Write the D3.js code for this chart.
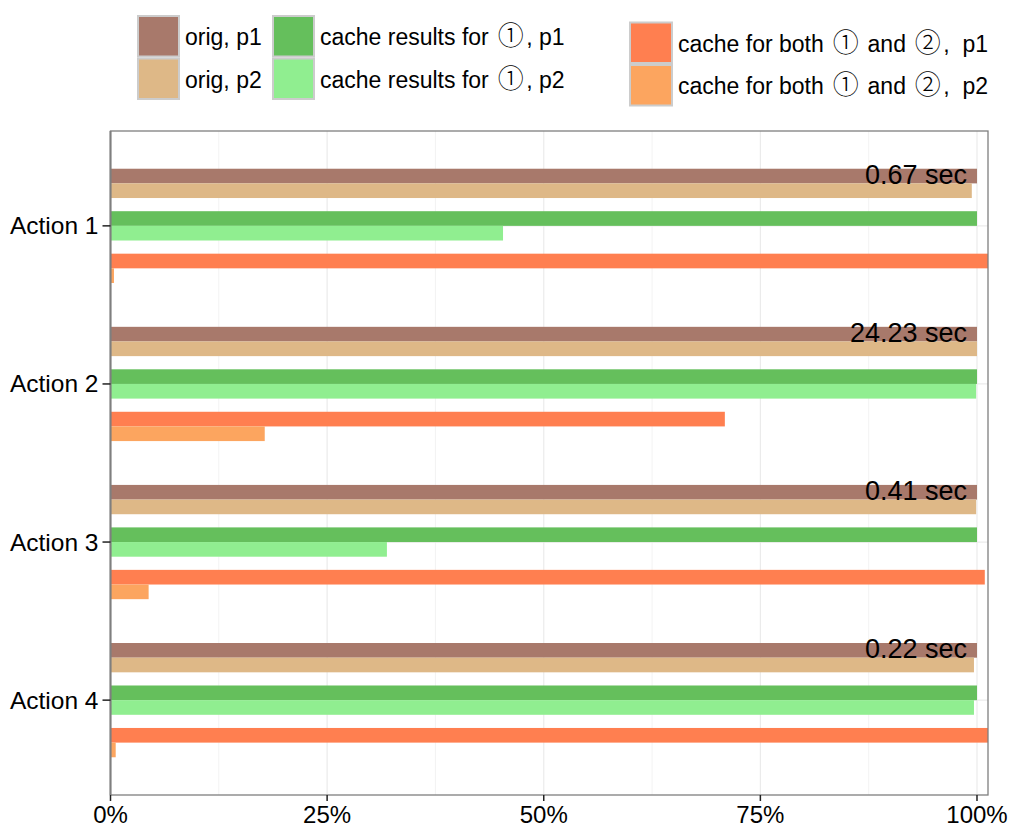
<!DOCTYPE html>
<html>
<head>
<meta charset="utf-8">
<script src="https://cdn.jsdelivr.net/npm/d3@7"></script>
<style>
  html, body { margin: 0; padding: 0; background: #fff; }
  svg text { font-family: "Liberation Sans", Arial, "Noto Sans CJK JP", sans-serif; fill: #000; }
  .circ { font-family: "Noto Sans CJK JP", "DejaVu Sans", sans-serif; }
</style>
</head>
<body>
<svg id="chart" width="1009" height="827"></svg>
<script>
// Actions on the y axis
const actions = ["Action 1", "Action 2", "Action 3", "Action 4"];

// Series (relative runtime, fraction of the original p1 run)
const seriesNames = [
  "orig, p1", "orig, p2",
  "cache results for \u2460, p1", "cache results for \u2460, p2",
  "cache for both \u2460 and \u2461,  p1", "cache for both \u2460 and \u2461,  p2"
];
const seriesColors = ["#a8796b", "#deb887", "#65bf5c", "#90ee90", "#ff7f50", "#fca55f"];

const origP1       = [1.000, 1.000, 1.000, 1.000];
const origP2       = [0.994, 1.000, 0.999, 0.9965];
const cacheOneP1   = [1.000, 1.000, 1.000, 1.000];
const cacheOneP2   = [0.453, 0.999, 0.319, 0.9965];
const cacheBothP1  = [1.013, 0.709, 1.009, 1.013];
const cacheBothP2  = [0.004, 0.178, 0.044, 0.006];

// Absolute runtime of the original p1 run
const secLabels = ["0.67 sec", "24.23 sec", "0.41 sec", "0.22 sec"];

const xTicks = [0, 0.25, 0.5, 0.75, 1];
const xTickLabels = ["0%", "25%", "50%", "75%", "100%"];
const xMinor = [0.125, 0.375, 0.625, 0.875];

const seriesValues = [origP1, origP2, cacheOneP1, cacheOneP2, cacheBothP1, cacheBothP2];

const rows = [];
actions.forEach((a, i) => {
  seriesValues.forEach((vals, s) => {
    rows.push({ action: a, series: s, pair: Math.floor(s / 2), sub: s % 2, value: vals[i] });
  });
});

const svg = d3.select("#chart");
const panel = { left: 110.5, right: 988, top: 131, bottom: 795 };

const x = d3.scaleLinear().domain([0, 1.0127]).range([panel.left, panel.right]);
const y = d3.scalePoint().domain(actions).range([panel.top, panel.bottom]).padding(0.6);

const groupHalf = y.step() * 0.403;
const pairScale = d3.scaleBand().domain([0, 1, 2]).range([-groupHalf, groupHalf])
  .paddingInner(0.31).paddingOuter(0.155);
const subScale = d3.scaleBand().domain([0, 1]).range([0, pairScale.bandwidth()]);

// clip for the panel
svg.append("defs").append("clipPath").attr("id", "panelClip")
  .append("rect")
  .attr("x", panel.left).attr("y", panel.top)
  .attr("width", panel.right - panel.left).attr("height", panel.bottom - panel.top);

// grid
const grid = svg.append("g");
grid.selectAll("line.minor").data(xMinor).join("line")
  .attr("x1", d => x(d)).attr("x2", d => x(d))
  .attr("y1", panel.top).attr("y2", panel.bottom)
  .attr("stroke", "#f3f3f3").attr("stroke-width", 1);
grid.selectAll("line.major").data(xTicks).join("line")
  .attr("x1", d => x(d)).attr("x2", d => x(d))
  .attr("y1", panel.top).attr("y2", panel.bottom)
  .attr("stroke", "#ebebeb").attr("stroke-width", 1.2);
grid.selectAll("line.h").data(actions).join("line")
  .attr("x1", panel.left).attr("x2", panel.right)
  .attr("y1", d => y(d)).attr("y2", d => y(d))
  .attr("stroke", "#ebebeb").attr("stroke-width", 1.2);

// bars
svg.append("g").attr("clip-path", "url(#panelClip)")
  .selectAll("rect").data(rows).join("rect")
  .attr("x", x(0))
  .attr("y", d => y(d.action) + pairScale(d.pair) + subScale(d.sub))
  .attr("width", d => x(d.value) - x(0))
  .attr("height", subScale.bandwidth())
  .attr("fill", d => seriesColors[d.series]);

// runtime labels on the orig p1 bars
svg.append("g").selectAll("text").data(actions).join("text")
  .attr("x", x(1) - 10)
  .attr("y", a => y(a) + pairScale(0) + subScale.bandwidth() + 0.5)
  .attr("text-anchor", "end")
  .attr("font-size", 27)
  .text((a, i) => secLabels[i]);

// panel border
svg.append("rect")
  .attr("x", panel.left).attr("y", panel.top)
  .attr("width", panel.right - panel.left).attr("height", panel.bottom - panel.top)
  .attr("fill", "none").attr("stroke", "#7f7f7f").attr("stroke-width", 1.3);
svg.append("line")
  .attr("x1", panel.left).attr("x2", panel.left)
  .attr("y1", panel.top).attr("y2", panel.bottom)
  .attr("stroke", "#7f7f7f").attr("stroke-width", 2);

// x axis
const xAxis = svg.append("g");
xAxis.selectAll("line").data(xTicks).join("line")
  .attr("x1", d => x(d)).attr("x2", d => x(d))
  .attr("y1", panel.bottom).attr("y2", panel.bottom + 6)
  .attr("stroke", "#222").attr("stroke-width", 1.5);
xAxis.selectAll("text").data(xTicks).join("text")
  .attr("x", d => x(d)).attr("y", 823)
  .attr("text-anchor", "middle").attr("font-size", 24)
  .text((d, i) => xTickLabels[i]);

// y axis
const yAxis = svg.append("g");
yAxis.selectAll("line").data(actions).join("line")
  .attr("x1", panel.left - 8).attr("x2", panel.left)
  .attr("y1", d => y(d)).attr("y2", d => y(d))
  .attr("stroke", "#222").attr("stroke-width", 1.5);
yAxis.selectAll("text").data(actions).join("text")
  .attr("x", panel.left - 12).attr("y", d => y(d) + 8.5)
  .attr("text-anchor", "end").attr("font-size", 24.5)
  .text(d => d);

// legend: three columns of two keys
const legendCols = [
  { x: 137, y: 15, w: 43, h: 42.5, series: [0, 1] },
  { x: 272, y: 15, w: 43, h: 42.5, series: [2, 3] },
  { x: 629, y: 21.5, w: 44, h: 42.5, series: [4, 5] }
];
const legend = svg.append("g");
legendCols.forEach(col => {
  col.series.forEach((s, r) => {
    const top = col.y + r * col.h;
    legend.append("rect")
      .attr("x", col.x + 1).attr("y", top + 1)
      .attr("width", col.w - 2).attr("height", col.h - 2)
      .attr("fill", seriesColors[s]).attr("stroke", "#cccccc").attr("stroke-width", 2);
    const t = legend.append("text")
      .attr("x", col.x + col.w + 5).attr("y", top + col.h / 2 + 9)
      .attr("font-size", 23)
      .style("white-space", "pre");
    // circled digits set a little larger, with a bit of room on each side
    let afterCirc = false;
    seriesNames[s].split(/([\u2460-\u2473])/).forEach(part => {
      if (!part) return;
      const circ = /[\u2460-\u2473]/.test(part);
      t.append("tspan")
        .attr("class", circ ? "circ" : null)
        .attr("font-size", circ ? 26 : null)
        .attr("font-weight", circ ? 300 : null)
        .attr("dx", circ || afterCirc ? 2.5 : null)
        .text(part);
      afterCirc = circ;
    });
  });
});
</script>
</body>
</html>
